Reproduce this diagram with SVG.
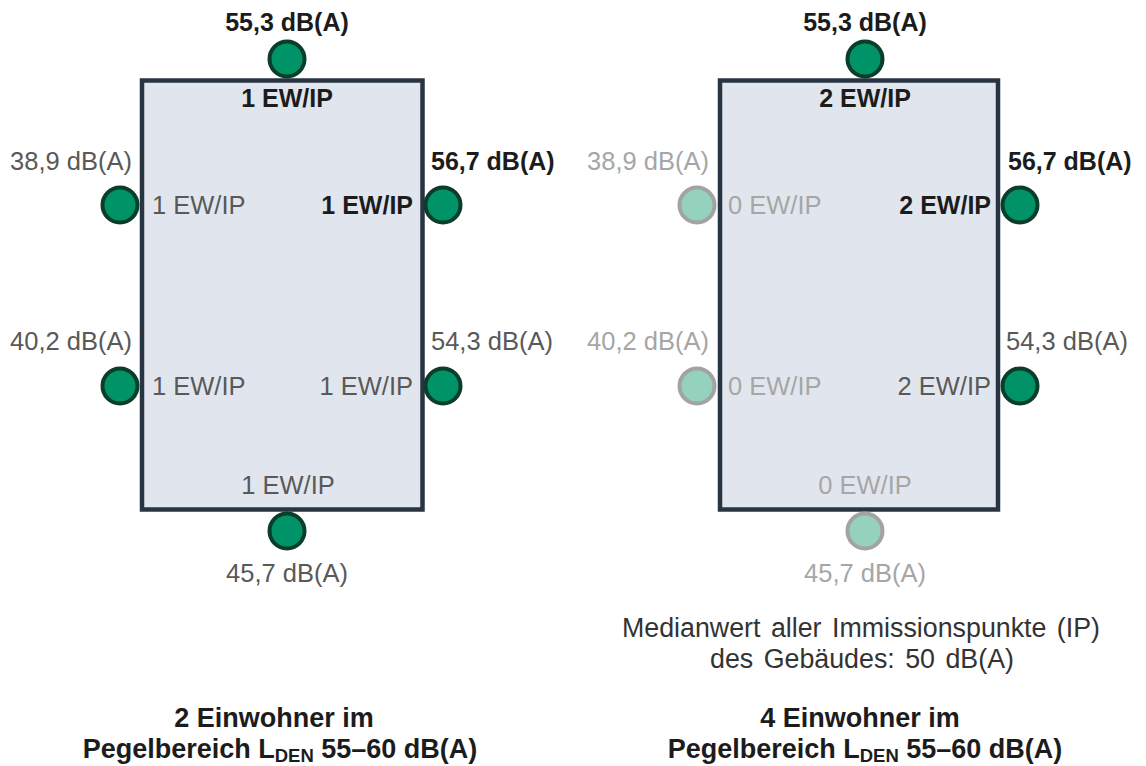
<svg xmlns="http://www.w3.org/2000/svg" width="1146" height="766" viewBox="0 0 1146 766">
<style>
text{font-family:"Liberation Sans",Arial,sans-serif;font-size:25.5px}
.b{font-weight:bold;fill:#1c1c1c;font-size:25px}
.t{font-weight:bold;fill:#1c1c1c;font-size:27px}
.g{fill:#595959}
.p{fill:#a6a6a6}
.d{fill:#333333;font-size:26.8px}
.m{text-anchor:middle}
.e{text-anchor:end}
.bld{fill:#e1e6ee;stroke:#283441;stroke-width:4.5}
.on{fill:#009368;stroke:#0b3d2b;stroke-width:4}
.off{fill:#94d2bd;stroke:#a3a3a3;stroke-width:4}
</style>
<rect width="1146" height="766" fill="#ffffff"/>
<g id="building-left">
<rect class="bld" x="142" y="80.5" width="280.5" height="429"/>
<circle id="ip-l-top" class="on" cx="287" cy="59" r="17.5"/>
<circle id="ip-l-w1" class="on" cx="120" cy="205" r="17.5"/>
<circle id="ip-l-e1" class="on" cx="443" cy="205" r="17.5"/>
<circle id="ip-l-w2" class="on" cx="120" cy="386" r="17.5"/>
<circle id="ip-l-e2" class="on" cx="443" cy="386" r="17.5"/>
<circle id="ip-l-bot" class="on" cx="287" cy="531" r="17.5"/>
<text class="b m" x="287" y="31">55,3 dB(A)</text>
<text class="b m" x="287" y="107">1 EW/IP</text>
<text class="g e" x="132" y="170">38,9 dB(A)</text>
<text class="g" x="152" y="214">1 EW/IP</text>
<text class="b" x="431" y="170">56,7 dB(A)</text>
<text class="b e" x="413" y="214">1 EW/IP</text>
<text class="g e" x="132" y="350">40,2 dB(A)</text>
<text class="g" x="152" y="395">1 EW/IP</text>
<text class="g" x="431" y="350">54,3 dB(A)</text>
<text class="g e" x="413" y="395">1 EW/IP</text>
<text class="g m" x="288" y="494">1 EW/IP</text>
<text class="g m" x="287" y="582">45,7 dB(A)</text>
</g>
<g id="building-right">
<rect class="bld" x="720" y="80.5" width="278" height="429"/>
<circle id="ip-r-top" class="on" cx="865" cy="59" r="17.5"/>
<circle id="ip-r-w1" class="off" cx="697" cy="205" r="17.5"/>
<circle id="ip-r-e1" class="on" cx="1020" cy="205" r="17.5"/>
<circle id="ip-r-w2" class="off" cx="697" cy="386" r="17.5"/>
<circle id="ip-r-e2" class="on" cx="1020" cy="386" r="17.5"/>
<circle id="ip-r-bot" class="off" cx="865" cy="531" r="17.5"/>
<text class="b m" x="865" y="31">55,3 dB(A)</text>
<text class="b m" x="865" y="107">2 EW/IP</text>
<text class="p e" x="709" y="170">38,9 dB(A)</text>
<text class="p" x="728" y="214">0 EW/IP</text>
<text class="b" x="1008" y="170">56,7 dB(A)</text>
<text class="b e" x="991" y="214">2 EW/IP</text>
<text class="p e" x="709" y="350">40,2 dB(A)</text>
<text class="p" x="728" y="395">0 EW/IP</text>
<text class="g" x="1006" y="350">54,3 dB(A)</text>
<text class="g e" x="991" y="395">2 EW/IP</text>
<text class="p m" x="865" y="494">0 EW/IP</text>
<text class="p m" x="865" y="582">45,7 dB(A)</text>
</g>
<g id="notes">
<text class="d m" x="861" y="637" style="word-spacing:3px">Medianwert aller Immissionspunkte (IP)</text>
<text class="d m" x="862" y="668" style="word-spacing:3px">des Gebäudes: 50 dB(A)</text>
<text class="t m" x="274" y="727">2 Einwohner im</text>
<text class="t m" x="280" y="758">Pegelbereich  L<tspan font-size="18.5" dy="4">DEN</tspan><tspan dy="-4"> 55–60 dB(A)</tspan></text>
<text class="t m" x="860" y="727">4 Einwohner im</text>
<text class="t m" x="865" y="758">Pegelbereich  L<tspan font-size="18.5" dy="4">DEN</tspan><tspan dy="-4"> 55–60 dB(A)</tspan></text>
</g>
</svg>
